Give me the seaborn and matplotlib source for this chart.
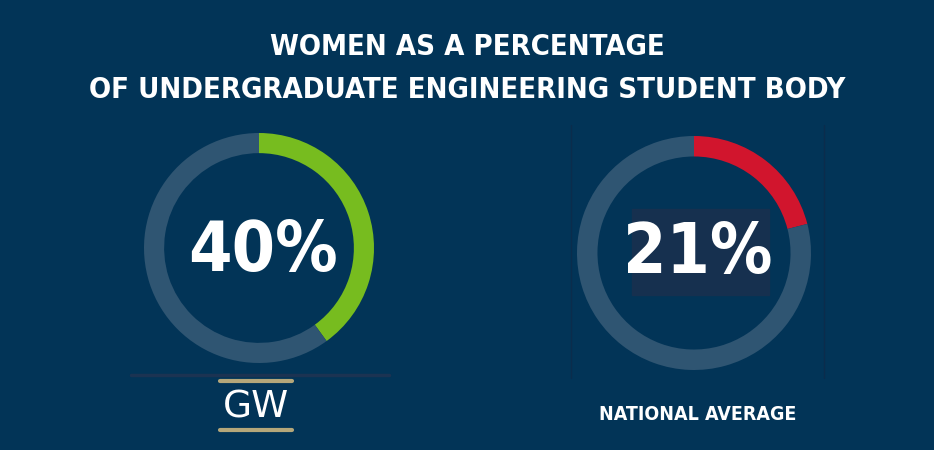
import matplotlib
matplotlib.use("Agg")
import matplotlib.pyplot as plt
import seaborn as sns
from matplotlib.patches import Rectangle

# ==========================================
# DATA
# ==========================================

title_lines = [
    "WOMEN AS A PERCENTAGE",
    "OF UNDERGRADUATE ENGINEERING STUDENT BODY"
]
groups = ["GW", "NATIONAL AVERAGE"]
women_pct = [40, 21]
ring_colors = ["#77BC1F", "#D1152D"]

# ==========================================
# STYLE
# ==========================================

bg = "#023457"
track = "#2F5572"
gold = "#B5A77A"

sns.set_theme(style="dark", rc={
    "figure.facecolor": bg,
    "axes.facecolor": bg,
    "savefig.facecolor": bg,
})
plt.rcParams["font.family"] = ["DejaVu Sans"]
plt.rcParams["font.stretch"] = "condensed"

W, H = 934, 450
fig = plt.figure(figsize=(W / 100, H / 100), dpi=100)

# full-figure pixel axes for decorations
deco = fig.add_axes([0, 0, 1, 1])
deco.set_xlim(0, W)
deco.set_ylim(H, 0)
deco.axis("off")
deco.patch.set_alpha(0)

# title
deco.text(467, 47, title_lines[0], ha="center", va="center",
          color="white", fontsize=21, fontweight="bold",
          fontstretch="condensed")
deco.text(467, 90, title_lines[1], ha="center", va="center",
          color="white", fontsize=21, fontweight="bold",
          fontstretch="condensed")

# ring centres and radii in pixels
centers = [(259, 248, 115), (694, 253, 117)]

for (cx, cy, r), pct, col in zip(centers, women_pct, ring_colors):
    ax = fig.add_axes([(cx - r) / W, (H - cy - r) / H, 2 * r / W, 2 * r / H])
    ax.pie(
        [pct, 100 - pct],
        colors=[col, track],
        startangle=90,
        counterclock=False,
        radius=1,
        wedgeprops=dict(width=0.175, edgecolor="none"),
    )
    ax.set_xlim(-1, 1)
    ax.set_ylim(-1, 1)
    ax.set_aspect("equal")
    ax.axis("off")

# faint frame lines
deco.plot([131, 389], [375, 375], color="#1B3352", lw=2.5)
deco.plot([571, 571], [125, 378], color="#0B2C4C", lw=1)
deco.plot([824, 824], [125, 378], color="#0B2C4C", lw=1)

# centre labels
deco.add_patch(Rectangle((632, 209), 137, 86, color="#16304F", zorder=2))
deco.text(263, 252, f"{women_pct[0]}%", ha="center", va="center",
          color="white", fontsize=50, fontweight="bold",
          fontstretch="condensed", zorder=3)
deco.text(698, 254, f"{women_pct[1]}%", ha="center", va="center",
          color="white", fontsize=50, fontweight="bold",
          fontstretch="condensed", zorder=3)

# GW logo
deco.plot([220, 292], [381, 381], color=gold, lw=3)
deco.plot([220, 292], [430, 430], color=gold, lw=3)
deco.text(256, 407, groups[0], ha="center", va="center", color="white",
          fontsize=27, fontstretch="normal")

# national average label
deco.text(698, 414, groups[1], ha="center", va="center",
          color="white", fontsize=14, fontweight="bold",
          fontstretch="condensed")

fig.savefig("out.png", dpi=100, facecolor=bg)
